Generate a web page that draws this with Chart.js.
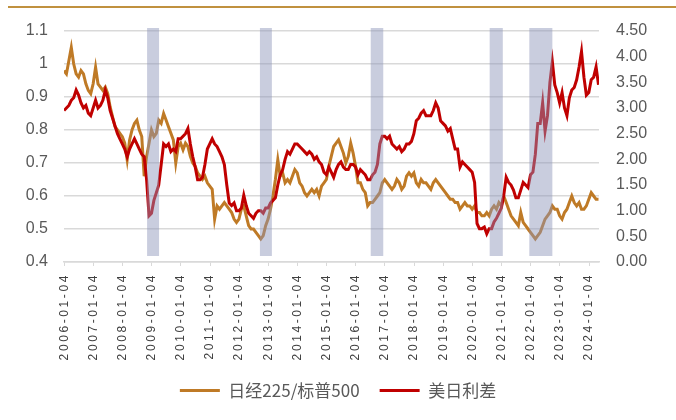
<!DOCTYPE html>
<html><head><meta charset="utf-8">
<script src="https://cdn.jsdelivr.net/npm/chart.js@4.4.1/dist/chart.umd.min.js"></script>
<style>
html,body{margin:0;padding:0;background:#fff;}
#wrap{position:relative;width:676px;height:420px;overflow:hidden;}
canvas{position:absolute;left:0;top:0;}
#rule{position:absolute;left:8px;top:6px;width:668px;height:2px;background:#C0913F;}
</style></head><body>
<div id="wrap"><canvas id="c" width="676" height="420"></canvas><div id="rule"></div></div>
<script>
// ---- DATA ----
const seriesNames = ['日经225/标普500', '美日利差'];
const startYear = 2006;              // monthly observations start 2006-01
// 日经225/标普500 (left axis), monthly, 2006-01 .. 2024-05
const nikkeiSpxRatio = [
  0.98, 0.97, 1.01, 1.05, 1.00, 0.97, 0.96, 0.98, 0.97, 0.94, 0.92, 0.91, // 2006
  0.94, 0.99, 0.94, 0.93, 0.92, 0.93, 0.91, 0.87, 0.84, 0.81, 0.80, 0.79, // 2007
  0.78, 0.76, 0.71, 0.77, 0.80, 0.82, 0.83, 0.80, 0.78, 0.66, 0.72, 0.76, // 2008
  0.80, 0.78, 0.79, 0.83, 0.82, 0.85, 0.83, 0.81, 0.79, 0.77, 0.70, 0.75, // 2009
  0.76, 0.74, 0.76, 0.75, 0.72, 0.70, 0.69, 0.67, 0.66, 0.65, 0.66, 0.64, // 2010
  0.63, 0.62, 0.53, 0.57, 0.56, 0.57, 0.58, 0.57, 0.56, 0.55, 0.53, 0.52, // 2011
  0.53, 0.56, 0.57, 0.54, 0.51, 0.50, 0.50, 0.49, 0.48, 0.47, 0.48, 0.51, // 2012
  0.53, 0.56, 0.60, 0.65, 0.71, 0.66, 0.67, 0.64, 0.65, 0.64, 0.66, 0.68, // 2013
  0.67, 0.64, 0.63, 0.61, 0.60, 0.61, 0.62, 0.61, 0.62, 0.60, 0.63, 0.64, // 2014
  0.65, 0.69, 0.72, 0.75, 0.76, 0.77, 0.75, 0.73, 0.70, 0.72, 0.76, 0.73, // 2015
  0.69, 0.64, 0.64, 0.62, 0.61, 0.57, 0.58, 0.58, 0.59, 0.60, 0.61, 0.64, // 2016
  0.65, 0.64, 0.63, 0.62, 0.63, 0.65, 0.64, 0.62, 0.63, 0.66, 0.67, 0.66, // 2017
  0.67, 0.64, 0.63, 0.65, 0.64, 0.64, 0.63, 0.62, 0.64, 0.65, 0.64, 0.63, // 2018
  0.62, 0.61, 0.60, 0.59, 0.59, 0.58, 0.58, 0.56, 0.57, 0.58, 0.57, 0.57, // 2019
  0.56, 0.57, 0.55, 0.55, 0.54, 0.54, 0.55, 0.54, 0.56, 0.57, 0.56, 0.58, // 2020
  0.57, 0.60, 0.58, 0.56, 0.54, 0.53, 0.52, 0.51, 0.55, 0.52, 0.51, 0.50, // 2021
  0.49, 0.48, 0.47, 0.48, 0.49, 0.51, 0.53, 0.54, 0.55, 0.57, 0.56, 0.56, // 2022
  0.54, 0.53, 0.55, 0.56, 0.58, 0.60, 0.58, 0.57, 0.58, 0.56, 0.56, 0.57, // 2023
  0.59, 0.61, 0.60, 0.59, 0.59                                            // 2024
];
// 美日利差 (right axis), monthly, 2006-01 .. 2024-05
const usJpSpread = [
  2.95, 3.00, 3.05, 3.15, 3.20, 3.35, 3.25, 3.10, 3.00, 3.05, 2.90, 2.85, // 2006
  3.00, 3.15, 3.00, 3.05, 3.15, 3.35, 3.20, 2.95, 2.80, 2.65, 2.50, 2.40, // 2007
  2.30, 2.20, 2.05, 2.20, 2.30, 2.40, 2.30, 2.20, 2.10, 2.05, 1.60, 0.90, // 2008
  0.95, 1.20, 1.35, 1.50, 1.90, 2.30, 2.25, 2.30, 2.15, 2.20, 2.15, 2.40, // 2009
  2.40, 2.45, 2.50, 2.60, 2.30, 2.05, 1.85, 1.60, 1.60, 1.65, 1.90, 2.20, // 2010
  2.30, 2.40, 2.30, 2.25, 2.15, 2.05, 1.90, 1.50, 1.15, 1.10, 1.15, 1.00, // 2011
  1.00, 1.05, 1.30, 1.10, 0.95, 0.90, 0.85, 0.95, 1.00, 1.00, 0.95, 1.05, // 2012
  1.05, 1.15, 1.20, 1.25, 1.50, 1.70, 1.80, 2.00, 2.15, 2.10, 2.20, 2.30, // 2013
  2.30, 2.25, 2.20, 2.15, 2.10, 2.15, 2.10, 2.00, 2.05, 1.95, 1.90, 1.75, // 2014
  1.70, 1.85, 1.75, 1.65, 1.80, 1.90, 1.95, 1.85, 1.80, 1.80, 1.90, 1.90, // 2015
  1.85, 1.70, 1.80, 1.75, 1.70, 1.60, 1.60, 1.70, 1.75, 1.90, 2.30, 2.45, // 2016
  2.45, 2.40, 2.45, 2.30, 2.25, 2.20, 2.25, 2.15, 2.20, 2.30, 2.30, 2.35, // 2017
  2.50, 2.75, 2.80, 2.90, 2.95, 2.85, 2.85, 2.85, 2.95, 3.10, 3.00, 2.75, // 2018
  2.70, 2.65, 2.55, 2.60, 2.40, 2.20, 2.20, 1.85, 1.95, 1.90, 1.85, 1.80, // 2019
  1.75, 1.55, 0.75, 0.65, 0.65, 0.68, 0.55, 0.65, 0.65, 0.78, 0.85, 0.95, // 2020
  1.05, 1.30, 1.65, 1.55, 1.50, 1.40, 1.25, 1.25, 1.40, 1.55, 1.50, 1.45, // 2021
  1.70, 1.75, 2.10, 2.70, 2.70, 3.10, 2.55, 2.85, 3.50, 3.90, 3.45, 3.30, // 2022
  3.10, 3.30, 3.00, 2.85, 3.20, 3.35, 3.40, 3.55, 3.80, 4.10, 3.60, 3.25, // 2023
  3.30, 3.55, 3.60, 3.80, 3.45                                            // 2024
];
const xTickLabels = ['2006-01-04','2007-01-04','2008-01-04','2009-01-04','2010-01-04','2011-01-04',
  '2012-01-04','2013-01-04','2014-01-04','2015-01-04','2016-01-04','2017-01-04','2018-01-04',
  '2019-01-04','2020-01-04','2021-01-04','2022-01-04','2023-01-04','2024-01-04'];
// shaded periods (decimal years)
const shadeStart = [2008.85, 2012.72, 2016.52, 2020.60, 2021.96];
const shadeEnd   = [2009.26, 2013.13, 2016.95, 2021.05, 2022.75];
const leftRange = [0.4, 1.1];
const rightRange = [0, 4.5];
const xEnd = 2024.35;

// ---- BUILD ----
const toYear = s => { const [y, m, d] = s.split('-').map(Number); return y + (m - 1) / 12 + (d - 1) / 365; };
const xOf = i => startYear + i / 12;
const brownPts = nikkeiSpxRatio.map((v, i) => ({x: xOf(i), y: v}));
const redPts = usJpSpread.map((v, i) => ({x: xOf(i), y: v}));

const BROWN = '#BF7A26', RED = '#C00000';

const bandsPlugin = {
  id: 'bands',
  afterDatasetsDraw(chart) {
    const {ctx, chartArea, scales} = chart;
    const x = scales.x;
    ctx.save();
    ctx.fillStyle = 'rgba(140,148,185,0.47)';
    for (let i = 0; i < shadeStart.length; i++) {
      const x1 = x.getPixelForValue(shadeStart[i]);
      const x2 = x.getPixelForValue(shadeEnd[i]);
      ctx.fillRect(x1, chartArea.top - 3, x2 - x1, chartArea.bottom - chartArea.top - 3);
    }
    ctx.restore();
    ctx.letterSpacing = '2.6px';
  },
  afterDraw(chart) { chart.ctx.letterSpacing = '0px'; }
};

new Chart(document.getElementById('c'), {
  type: 'line',
  data: {
    datasets: [
      {label: seriesNames[0], data: brownPts, yAxisID: 'yL', borderColor: BROWN, backgroundColor: BROWN,
       borderWidth: 3, pointRadius: 0, tension: 0, order: 1},
      {label: seriesNames[1], data: redPts, yAxisID: 'yR', borderColor: RED, backgroundColor: RED,
       borderWidth: 3, pointRadius: 0, tension: 0, order: 0}
    ]
  },
  options: {
    responsive: false, animation: false, devicePixelRatio: 1,
    layout: {padding: {top: 31, bottom: 11, left: 0, right: 0}},
    plugins: {
      legend: {
        position: 'bottom',
        labels: {
          usePointStyle: true, pointStyle: 'line', pointStyleWidth: 40, boxHeight: 17,
          padding: 20, color: '#595959',
          font: {family: "'Noto Sans CJK SC', sans-serif", size: 17},
          sort: (a, b) => a.datasetIndex - b.datasetIndex
        }
      },
      tooltip: {enabled: false}
    },
    scales: {
      x: {
        type: 'linear', min: startYear, max: xEnd,
        afterBuildTicks: s => { s.ticks = xTickLabels.map(t => ({value: toYear(t)})); },
        afterFit: s => { s.height = 100; },
        grid: {drawOnChartArea: false, drawTicks: true, tickLength: 4, color: '#D9D9D9', lineWidth: 1},
        border: {display: true, color: '#D9D9D9', width: 1.5},
        ticks: {
          z: 1, autoSkip: false, minRotation: 90, maxRotation: 90, padding: 7,
          color: '#404040', font: {family: "'Liberation Sans', Arial, sans-serif", size: 12},
          callback: (v, i) => xTickLabels[i]
        }
      },
      yL: {
        position: 'left', min: leftRange[0], max: leftRange[1],
        afterFit: s => { s.width = 64; },
        grid: {color: '#D9D9D9', lineWidth: 1.5, drawTicks: false},
        border: {display: false},
        ticks: {stepSize: 0.1, padding: 16, color: '#595959',
          font: {family: "'Liberation Sans', Arial, sans-serif", size: 16},
          callback: v => String(Number(v.toFixed(1)))}
      },
      yR: {
        position: 'right', min: rightRange[0], max: rightRange[1],
        afterFit: s => { s.width = 77; },
        grid: {display: false, drawTicks: false},
        border: {display: false},
        ticks: {stepSize: 0.5, padding: 17, color: '#595959',
          font: {family: "'Liberation Sans', Arial, sans-serif", size: 16},
          callback: v => v.toFixed(2)}
      }
    }
  },
  plugins: [bandsPlugin]
});
</script>
</body></html>
